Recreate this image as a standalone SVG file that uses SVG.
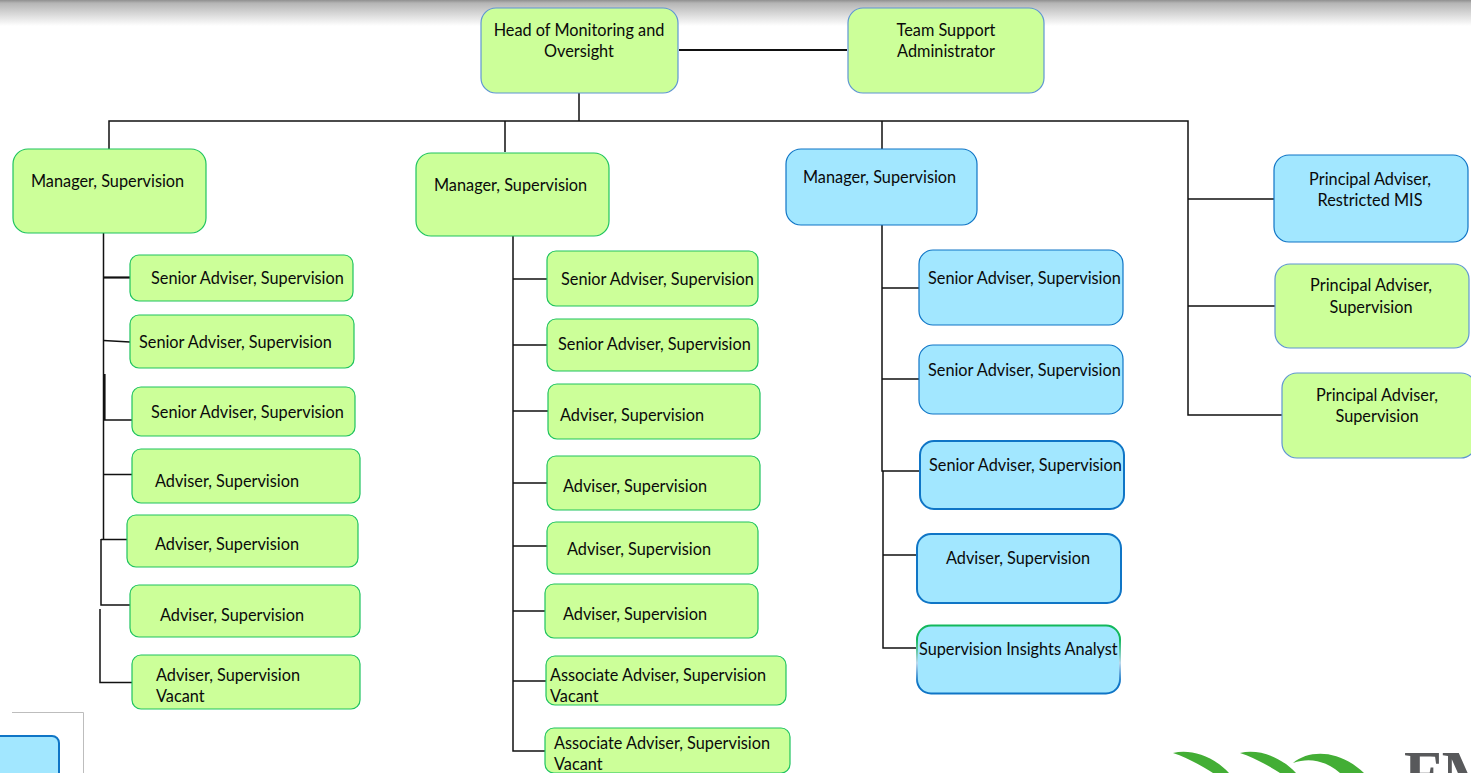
<svg xmlns="http://www.w3.org/2000/svg" width="1471" height="773" viewBox="0 0 1471 773">
<style>
text{font-family:Lato,"Open Sans","Liberation Sans",sans-serif;font-size:16.3px;fill:#0a0a0a;transform:translateY(1px)}
.m{text-anchor:middle}
rect{stroke-width:1.2}
.g{fill:#ccff99;stroke:#1fc45f}
.gb{fill:#ccff99;stroke:#5f96d2}
.b{fill:#a2e7ff;stroke:#0f75c6}
.bt{stroke-width:2}
#connectors path{fill:none;stroke:#111;stroke-width:1.5}
#connectors .t{stroke-width:2.2}
</style>
<defs>
<linearGradient id="top" x1="0" y1="0" x2="0" y2="1"><stop offset="0" stop-color="#8f8f8f"/><stop offset="0.12" stop-color="#b5b5b5"/><stop offset="1" stop-color="#fff"/></linearGradient>
<linearGradient id="sia" x1="0" y1="0" x2="0" y2="1"><stop offset="0" stop-color="#12b85c"/><stop offset="0.2" stop-color="#12b85c"/><stop offset="0.55" stop-color="#bcd9ee"/><stop offset="0.85" stop-color="#0f75c6"/><stop offset="1" stop-color="#0f75c6"/></linearGradient>
</defs>
<rect width="1471" height="773" style="fill:#fff;stroke:none"/>
<rect width="1471" height="26" style="fill:url(#top);stroke:none"/>
<g id="connectors">
<path class="t" d="M679 50H847"/>
<path d="M579 93V121M109 149V121H1188V415H1282M505 121V152M882 121V149M1188 199H1274M1188 306H1275"/>
<path d="M103.500 233V539"/><path class="t" d="M103 277.500H130"/><path d="M103.500 340.500L130 342"/>
<path class="t" d="M104.500 374V420"/><path d="M104 420H132M104 474.500H132M101 539.500H129M101 539V605H130M100 609V682.500H132"/>
<path d="M513 236V751H545M513 279H547M513 345H547M513 411H548M513 483H547M513 546H547M513 611H545M513 681H546"/>
<path d="M882 225V471H920M882 288H919M882 379H919M883 471V648H917M883 555H920"/>
</g>
<g id="head"><rect class="gb" x="481" y="8" width="197" height="85" rx="15"/><text class="m" x="579" y="35">Head of Monitoring and</text><text class="m" x="579" y="56">Oversight</text></g>
<g id="team-support"><rect class="gb" x="848" y="8" width="196" height="85" rx="15"/><text class="m" x="946" y="35">Team Support</text><text class="m" x="946" y="56">Administrator</text></g>
<g id="mgr1"><rect class="g" x="13" y="149" width="193" height="84" rx="15"/><text x="31" y="186">Manager, Supervision</text></g>
<g id="mgr2"><rect class="g" x="416" y="153" width="193" height="83" rx="15"/><text x="434" y="190">Manager, Supervision</text></g>
<g id="mgr3"><rect class="b" x="786" y="149" width="191" height="76" rx="15"/><text x="803" y="182">Manager, Supervision</text></g>
<g id="pa1"><rect class="b" x="1274" y="155" width="194" height="87" rx="15"/><text class="m" x="1370" y="184">Principal Adviser,</text><text class="m" x="1370" y="205">Restricted MIS</text></g>
<g id="pa2"><rect class="gb" x="1275" y="264" width="194" height="84" rx="15"/><text class="m" x="1371" y="290">Principal Adviser,</text><text class="m" x="1371" y="312">Supervision</text></g>
<g id="pa3"><rect class="gb" x="1282" y="373" width="194" height="85" rx="15"/><text class="m" x="1377" y="400">Principal Adviser,</text><text class="m" x="1377" y="421">Supervision</text></g>
<g id="l1"><rect class="g" x="130" y="255" width="223" height="46" rx="9"/><text x="151" y="283">Senior Adviser, Supervision</text></g>
<g id="l2"><rect class="g" x="130" y="315" width="224" height="53" rx="9"/><text x="139" y="347">Senior Adviser, Supervision</text></g>
<g id="l3"><rect class="g" x="132" y="387" width="223" height="49" rx="9"/><text x="151" y="417">Senior Adviser, Supervision</text></g>
<g id="l4"><rect class="g" x="132" y="449" width="228" height="54" rx="9"/><text x="155" y="486">Adviser, Supervision</text></g>
<g id="l5"><rect class="g" x="127" y="515" width="231" height="52" rx="9"/><text x="155" y="549">Adviser, Supervision</text></g>
<g id="l6"><rect class="g" x="130" y="585" width="230" height="52" rx="9"/><text x="160" y="620">Adviser, Supervision</text></g>
<g id="l7"><rect class="g" x="132" y="655" width="228" height="54" rx="9"/><text x="156" y="680">Adviser, Supervision</text><text x="156" y="701">Vacant</text></g>
<g id="m1"><rect class="g" x="547" y="251" width="211" height="55" rx="9"/><text x="561" y="284">Senior Adviser, Supervision</text></g>
<g id="m2"><rect class="g" x="547" y="319" width="211" height="52" rx="9"/><text x="558" y="349">Senior Adviser, Supervision</text></g>
<g id="m3"><rect class="g" x="548" y="384" width="212" height="55" rx="9"/><text x="560" y="420">Adviser, Supervision</text></g>
<g id="m4"><rect class="g" x="547" y="456" width="213" height="54" rx="9"/><text x="563" y="491">Adviser, Supervision</text></g>
<g id="m5"><rect class="g" x="547" y="522" width="211" height="52" rx="9"/><text x="567" y="554">Adviser, Supervision</text></g>
<g id="m6"><rect class="g" x="545" y="584" width="213" height="54" rx="9"/><text x="563" y="619">Adviser, Supervision</text></g>
<g id="m7"><rect class="g" x="546" y="656" width="240" height="49" rx="9"/><text x="550" y="680">Associate Adviser, Supervision</text><text x="550" y="701">Vacant</text></g>
<g id="m8"><rect class="g" x="545" y="728" width="245" height="45" rx="9"/><text x="554" y="748">Associate Adviser, Supervision</text><text x="554" y="769">Vacant</text></g>
<g id="r1"><rect class="b" x="919" y="250" width="204" height="75" rx="14"/><text x="928" y="283">Senior Adviser, Supervision</text></g>
<g id="r2"><rect class="b" x="919" y="345" width="204" height="69" rx="14"/><text x="928" y="375">Senior Adviser, Supervision</text></g>
<g id="r3"><rect class="b bt" x="920" y="441" width="204" height="68" rx="14"/><text x="929" y="470">Senior Adviser, Supervision</text></g>
<g id="r4"><rect class="b bt" x="917" y="534" width="204" height="69" rx="14"/><text x="946" y="563">Adviser, Supervision</text></g>
<g id="r5"><rect x="917" y="625.500" width="203" height="68" rx="14" style="fill:#a2e7ff;stroke:url(#sia);stroke-width:2"/><text x="919" y="654">Supervision Insights Analyst</text></g>
<path d="M12 712.500H83.500V773" style="fill:none;stroke:#bdbdbd;stroke-width:1"/>
<rect class="b bt" x="-20" y="736" width="79" height="50" rx="7"/>
<path d="M1173 753C1190 749 1212 755 1229 773H1213C1202 766 1188 758 1173 753Z" style="fill:#43ae35"/>
<path d="M1240 753C1257 749 1279 755 1296 773H1280C1269 766 1255 758 1240 753Z" style="fill:#43ae35"/>
<path d="M1293 763C1310 749 1340 750 1364 773H1340C1326 761 1310 757 1293 763Z" style="fill:#43ae35"/>
<text x="1404" y="792" style="font-family:'Liberation Serif',serif;font-weight:bold;font-size:62px;fill:#58595b">FM</text>
</svg>
